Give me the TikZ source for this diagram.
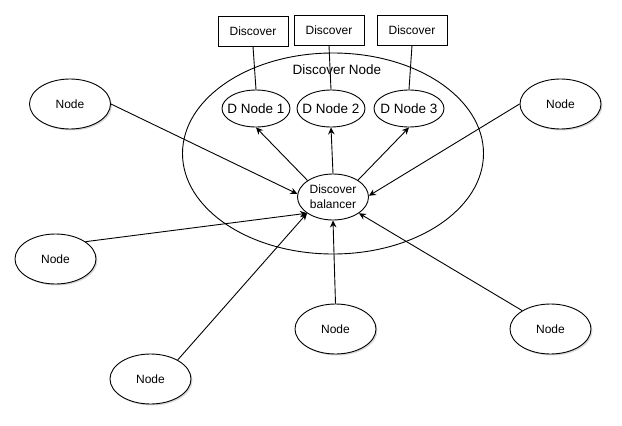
\documentclass[tikz,border=0pt]{standalone}
\usepackage{fontspec}
\setmainfont{Liberation Sans}
\usetikzlibrary{shapes.geometric,arrows.meta,shadows}
\begin{document}
\begin{tikzpicture}[x=1pt,y=-1pt,
  every node/.style={font=\fontsize{12}{14}\selectfont},
  ell/.style={ellipse, draw, line width=0.9pt, inner sep=0pt},
  outernode/.style={ell, minimum width=81pt, minimum height=50pt, fill=white,
    drop shadow={shadow xshift=1.5pt, shadow yshift=-1.5pt, opacity=0.3, fill=gray}},
  dnode/.style={ell, inner xsep=-5pt, minimum width=68pt, minimum height=37pt, font=\fontsize{13.5}{16}\selectfont},
  boxnode/.style={draw, line width=0.9pt, minimum width=70pt, minimum height=30pt, inner sep=0pt},
  arr/.style={draw, line width=0.9pt, -{Stealth[length=7pt,width=6.5pt]}},
  link/.style={draw, line width=0.9pt}]
\useasboundingbox (0,0) rectangle (622,426);
% container
\node[ell, minimum width=301pt, minimum height=201pt] (big) at (333,153.5) {};
\node[font=\fontsize{13.5}{16}\selectfont] (bigl) at (337,70) {Discover Node};
% discover boxes
\node[boxnode] (b1) at (253,31) {Discover};
\node[boxnode] (b2) at (329,30) {Discover};
\node[boxnode] (b3) at (412,30) {Discover};
% D nodes
\node[dnode] (d1) at (256,108.5) {D Node 1};
\node[dnode] (d2) at (331,108.5) {D Node 2};
\node[dnode, minimum width=70pt] (d3) at (409,108.5) {D Node 3};
% balancer
\node[ell, minimum width=71pt, minimum height=46pt, align=center, font=\fontsize{12}{15}\selectfont] (bal) at (333,197) {Discover\\balancer};
% outer nodes
\node[outernode] (tl) at (70,104) {Node};
\node[outernode] (l) at (55.5,259) {Node};
\node[outernode] (bl) at (150.5,379) {Node};
\node[outernode] (bm) at (335.5,329) {Node};
\node[outernode] (br) at (550.5,329) {Node};
\node[outernode] (r) at (560.5,104) {Node};
% links box -> D node
\draw[link] (b1.south) -- (d1.north);
\draw[link] (b2.south) -- (d2.north);
\draw[link] (b3.south) -- (d3.north);
% balancer -> D nodes
\draw[arr] (bal.147) -- (d1.south);
\draw[arr] (bal.90) -- (d2.south);
\draw[arr] (bal.34) -- (d3.south);
% outer -> balancer
\draw[arr] (tl.east) -- (bal.175);
\draw[arr] (l.30) -- (bal.212);
\draw[arr] (bl.35) -- (bal.212);
\draw[arr] (bm.north) -- (bal.270);
\draw[arr] (br.147) -- (bal.328);
\draw[arr] (r.west) -- (bal.2);
\end{tikzpicture}
\end{document}
